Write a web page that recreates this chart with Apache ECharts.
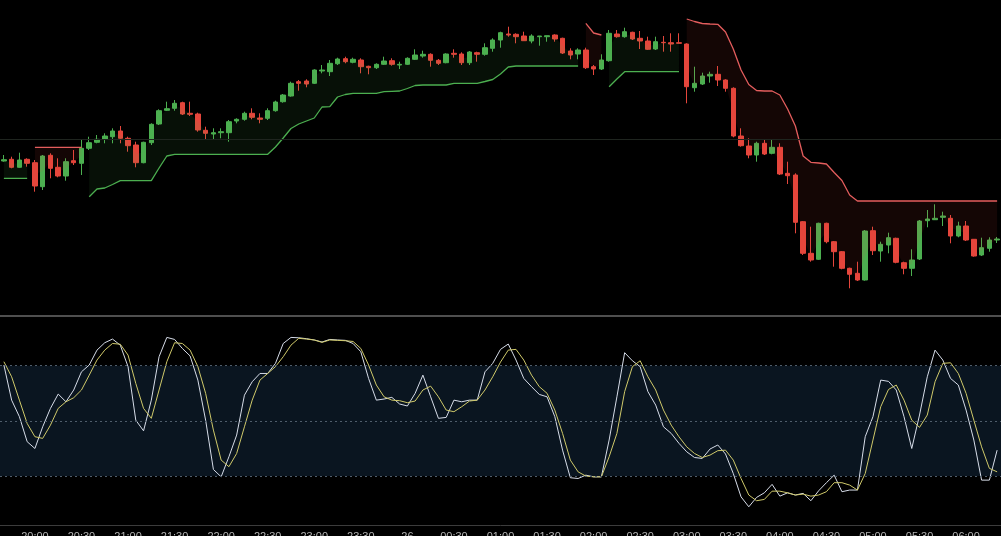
<!DOCTYPE html>
<html>
<head>
<meta charset="utf-8">
<script src="https://cdn.jsdelivr.net/npm/echarts@6/dist/echarts.min.js"></script>
<style>
  html, body { margin: 0; padding: 0; background: #000; }
  #chart { width: 1001px; height: 536px; }
</style>
</head>
<body>
<div id="chart"></div>
<script>
// 5 minute bars
const times = [
  '19:40','19:45','19:50','19:55',
  '20:00','20:05','20:10','20:15','20:20','20:25','20:30','20:35','20:40','20:45','20:50','20:55',
  '21:00','21:05','21:10','21:15','21:20','21:25','21:30','21:35','21:40','21:45','21:50','21:55',
  '22:00','22:05','22:10','22:15','22:20','22:25','22:30','22:35','22:40','22:45','22:50','22:55',
  '23:00','23:05','23:10','23:15','23:20','23:25','23:30','23:35','23:40','23:45','23:50','23:55',
  '00:00','00:05','00:10','00:15','00:20','00:25','00:30','00:35','00:40','00:45','00:50','00:55',
  '01:00','01:05','01:10','01:15','01:20','01:25','01:30','01:35','01:40','01:45','01:50','01:55',
  '02:00','02:05','02:10','02:15','02:20','02:25','02:30','02:35','02:40','02:45','02:50','02:55',
  '03:00','03:05','03:10','03:15','03:20','03:25','03:30','03:35','03:40','03:45','03:50','03:55',
  '04:00','04:05','04:10','04:15','04:20','04:25','04:30','04:35','04:40','04:45','04:50','04:55',
  '05:00','05:05','05:10','05:15','05:20','05:25','05:30','05:35','05:40','05:45','05:50','05:55',
  '06:00','06:05','06:10','06:15','06:20'
];

// [open, close, low, high]
const candles = [
  [159.0,160.3,158.3,165.0],[160.7,152.7,151.7,163.3],[152.7,160.0,152.3,167.3],[160.7,156.7,153.3,161.7],
  [157.3,134.0,128.3,160.0],[133.3,164.0,130.0,165.0],[164.7,151.7,141.7,166.7],[152.7,144.0,142.7,161.7],
  [144.0,158.3,139.3,161.7],[159.3,157.3,155.0,170.0],[156.7,171.7,145.0,180.0],[171.7,177.3,170.0,183.3],
  [177.7,180.7,176.7,185.0],[181.0,184.0,176.7,186.7],[183.3,189.0,176.7,191.7],[189.0,181.7,176.7,194.0],
  [181.7,174.3,168.3,183.3],[175.0,157.3,152.7,178.3],[157.3,177.7,156.7,178.3],[177.3,195.7,175.0,196.7],
  [196.0,209.3,195.0,210.7],[209.7,211.3,209.0,218.3],[211.7,216.7,209.3,220.0],[217.3,206.0,205.0,218.3],
  [206.7,205.7,204.0,218.3],[206.0,190.0,188.3,207.3],[189.7,186.7,180.0,193.3],[186.0,187.3,180.0,191.7],
  [187.3,188.3,181.7,191.7],[187.3,198.3,178.3,200.0],[199.0,200.7,196.7,201.7],[200.7,206.7,199.3,208.3],
  [206.7,202.7,200.7,211.7],[202.0,200.7,196.7,206.7],[201.7,209.3,200.0,211.7],[209.3,218.0,208.3,219.3],
  [218.3,225.0,217.3,226.0],[224.0,236.7,223.3,238.3],[238.3,236.7,229.3,240.0],[239.0,236.0,232.7,240.7],
  [236.7,250.0,236.0,250.7],[249.0,250.0,246.7,255.0],[248.3,256.7,244.0,260.0],[256.3,261.0,255.0,262.3],
  [261.3,258.3,256.7,263.3],[257.7,260.7,256.7,262.3],[260.0,253.3,246.7,261.7],[253.7,252.3,245.7,254.3],
  [252.3,255.7,251.0,256.7],[255.7,259.0,255.0,263.3],[259.3,255.7,254.3,261.7],[255.0,255.7,251.0,258.3],
  [255.7,261.7,255.0,262.7],[260.7,265.0,260.0,270.7],[264.0,265.7,262.3,269.3],[265.7,259.7,253.3,266.7],
  [259.7,256.7,255.0,261.0],[257.3,266.0,256.7,266.7],[266.7,265.7,262.3,270.7],[266.0,257.3,255.0,267.7],
  [257.3,268.0,255.0,269.0],[267.3,265.7,258.3,268.3],[265.7,272.3,264.3,276.7],[271.7,280.0,268.3,281.7],
  [280.0,287.3,272.3,288.3],[286.0,285.0,283.3,293.3],[285.7,283.3,276.7,286.7],[284.0,279.3,279.0,288.3],
  [279.0,284.0,276.7,285.7],[283.3,284.0,274.3,284.0],[283.3,284.3,278.3,284.3],[285.0,281.0,278.3,285.7],
  [281.7,267.0,266.0,282.3],[269.0,265.0,260.7,271.7],[266.0,270.0,260.7,271.7],[270.0,252.3,251.0,272.3],
  [253.3,251.0,245.0,255.0],[251.0,260.0,250.0,265.7],[259.3,286.7,258.3,290.0],[286.0,283.3,282.3,290.0],
  [283.3,288.3,282.3,292.3],[287.7,281.0,280.0,288.3],[281.7,279.0,271.0,289.0],[279.0,270.7,270.0,283.3],
  [271.0,278.3,270.0,283.3],[277.7,277.3,268.3,284.0],[277.3,276.0,268.3,286.7],[277.3,276.7,276.7,286.7],
  [276.0,233.3,216.7,276.7],[232.3,236.7,228.3,253.3],[236.0,244.0,235.0,247.3],[244.0,245.7,237.3,248.3],
  [245.7,240.0,234.0,254.0],[240.0,231.7,228.3,240.7],[231.7,184.0,182.7,232.7],[184.0,174.3,173.3,191.7],
  [174.0,165.0,161.7,181.7],[165.0,176.7,158.3,178.3],[176.7,166.0,165.0,180.7],[166.7,172.7,165.7,180.7],
  [172.7,146.0,145.0,176.7],[146.7,144.3,136.0,158.3],[145.0,97.7,86.7,146.7],[98.3,66.7,65.0,99.0],
  [66.7,60.0,58.3,93.3],[60.7,96.7,60.0,97.3],[96.7,78.3,76.7,97.3],[78.3,68.3,53.3,79.0],
  [68.3,51.7,50.7,69.0],[51.7,45.7,31.7,52.3],[46.7,40.0,39.0,58.3],[40.0,89.0,39.3,90.0],
  [89.3,69.3,65.0,93.3],[69.0,75.7,58.3,78.3],[75.0,82.3,66.7,87.3],[81.7,57.7,56.7,82.3],
  [57.3,51.7,45.7,58.3],[51.7,60.0,44.0,70.7],[61.0,99.0,60.0,100.0],[99.3,101.0,92.7,110.0],
  [100.3,101.7,100.0,115.7],[102.7,104.0,94.0,108.3],[101.7,84.0,76.7,105.0],[84.0,94.0,82.7,98.3],
  [94.0,80.0,79.0,99.0],[80.7,64.0,63.3,81.0],[65.0,72.3,64.0,82.3],[71.7,80.0,68.3,82.7],
  [80.0,81.0,77.0,83.0]
];

// supertrend, up (green) and down (red) legs
const stUp = [
  141.7,141.7,141.7,141.7,
  null,null,null,null,null,null,null,
  123.3,131,132,135.5,139.3,139.3,139.3,139.3,139.3,152,164,
  165.7,165.7,165.7,165.7,165.7,165.7,165.7,165.7,165.7,165.7,165.7,165.7,165.7,
  173,182,191.5,196,199,202,213,213.3,223,225.5,226.7,226.7,226.7,226.7,
  228.3,228.7,229,231.5,234.5,235,235,235,235,236.7,236.7,236.7,236.7,
  238.5,240.5,246,253,254,254,254,254,254,254,254,254,254,
  null,null,null,
  233.3,241,248.3,248.3,248.3,248.3,248.3,248.3,248.3,248.3,
  null,null,null,null,null,null,null,null,null,null,null,null,null,null,null,null,null,null,null,null,
  null,null,null,null,null,null,null,null,null,null,null,null,null,null,null,null,null,null,null,null,null
];
const stDown = [
  null,null,null,null,
  172.7,172.7,172.7,172.7,172.7,172.7,172.7,
  null,null,null,null,null,null,null,null,null,null,null,null,null,null,null,null,
  null,null,null,null,null,null,null,null,null,null,null,null,null,null,null,null,
  null,null,null,null,null,null,null,null,null,null,null,null,null,null,null,null,
  null,null,null,null,null,null,null,null,null,null,null,null,null,null,null,null,
  296.7,287,285,
  null,null,null,null,null,null,null,null,null,null,
  301,298.5,296.5,296,295.7,288,271,250,235.5,229.5,229,229,225,211,194,164,157.7,157,156,147.5,139.5,125,
  119,119,119,119,119,119,119,119,119,119,119,119,119,119,119,119,119,119,119
];

// stochastic %K and %D
const stochK = [
  80.4,61.3,52.3,38.7,35,46.8,56.8,64.6,60.4,66.8,76.7,80.4,88.5,92.5,94.5,91.2,
  79.5,50.4,44.6,61.3,84.9,95.4,94.3,89.4,85.3,72.2,50.4,23.6,19.6,30.5,42.3,64,
  71.3,75.8,75.8,81.3,92.1,95.4,95.2,94.7,94,92.9,94.3,94,93.8,92.1,87.6,73.1,
  61.3,61.9,62.8,59.2,58.1,65,74.9,63.1,51.4,51.9,61.3,60.4,61.3,61.3,76.7,81.3,
  88.9,91.8,83.1,73.1,68.6,64.4,63.1,52.3,34.1,19.1,18.7,20.5,19.6,19.6,39.6,63.1,
  87.1,82.7,79.5,65.9,58.6,46.8,43.2,37.8,33.2,30.1,29.6,34.7,36.9,32,21.4,8.7,
  3.3,8.4,10.9,15.5,9.1,10.9,9.7,10.6,6.6,12,16.4,20.5,11.5,12.4,12.4,41.4,
  52.3,72.2,71.5,66.8,52.3,35,53.2,74,88.5,83.1,73.1,69.5,55.9,39.6,17.8,17.8,
  34.1
];
const stochD = [
  82.2,74,61.3,48.6,41.4,40.5,47.7,56.8,60.4,62.6,66.8,74.9,83.1,88.5,92.1,91.7,
  85.8,70.4,56.8,51.4,66.8,82.2,92.5,92.1,88.5,79.5,65,45,28.7,25.1,32.3,46.8,
  61.3,72.2,75.8,79.5,84.9,91.2,94.9,94.5,94,92.7,94,93.8,93.6,93.2,89.4,80.4,
  69.5,63.1,61.3,61,59.9,60.8,66.8,68.9,63.1,55.9,55,57.7,60.8,61.3,66.8,74,
  82,88.5,88.9,83.1,74.9,68.6,65,55.9,43.2,28.7,22.3,20,19.6,19.6,30.5,43.2,
  65.9,79.5,82.7,74,66.8,55.9,47.7,41.4,35.9,32.3,30.1,31.4,33.8,34.1,28.7,18.7,
  9.7,6.6,7.3,11.8,11.8,10.9,9.7,10.2,9.1,9.7,11.5,16.4,16.4,15.1,12.4,21.4,
  39.6,57.7,67.1,69.5,61.3,50.4,46.5,53.2,71.3,81.3,81.6,75.8,65,50.4,35.9,24.2,
  22.3
];

const stochLevels = [80, 50, 20];

// fill between the body middle and the supertrend
const mids = candles.map(c => (c[0] + c[1]) / 2);
const upBase = stUp.map(v => v);
const upBand = stUp.map((v, i) => v == null ? null : mids[i] - v);
const dnBase = stDown.map((v, i) => v == null ? null : mids[i]);
const dnBand = stDown.map((v, i) => v == null ? null : v - mids[i]);

const GREEN = '#4caf50';
const RED = '#e5463c';

let myChart = echarts.init(document.getElementById('chart'));
myChart.setOption({
  animation: false,
  backgroundColor: '#000',
  grid: [
    { left: 0, right: 0, top: 0, height: 316, containLabel: false, outerBoundsMode: 'none' },
    { left: 0, right: 0, top: 317, bottom: 11, containLabel: false, outerBoundsMode: 'none' }
  ],
  xAxis: [
    {
      type: 'category', gridIndex: 0, data: times, boundaryGap: true,
      axisLine: { show: true, onZero: false, lineStyle: { color: '#6a6a6a', width: 1.5 } },
      axisTick: { show: false }, axisLabel: { show: false }, splitLine: { show: false }
    },
    {
      type: 'category', gridIndex: 1, data: times, boundaryGap: true,
      axisLine: { show: true, onZero: false, lineStyle: { color: '#3c3c3c', width: 1 } },
      axisTick: { show: false }, splitLine: { show: false },
      axisLabel: {
        color: '#b4b4b4', fontSize: 11, fontFamily: 'Liberation Sans', margin: 6,
        interval: (idx, val) => val.endsWith(':00') || val.endsWith(':30'),
        formatter: val => val === '00:00' ? '26' : val
      }
    }
  ],
  yAxis: [
    {
      type: 'value', gridIndex: 0, min: 4, max: 320, scale: true,
      axisLine: { show: false }, axisTick: { show: false }, axisLabel: { show: false }, splitLine: { show: false }
    },
    {
      type: 'value', gridIndex: 1, min: -6.6, max: 106.5,
      axisLine: { show: false }, axisTick: { show: false }, axisLabel: { show: false }, splitLine: { show: false }
    }
  ],
  series: [
    // green fill
    { type: 'line', xAxisIndex: 0, yAxisIndex: 0, stack: 'up', stackStrategy: 'all', data: upBase,
      symbol: 'none', lineStyle: { opacity: 0 }, silent: true },
    { type: 'line', xAxisIndex: 0, yAxisIndex: 0, stack: 'up', stackStrategy: 'all', data: upBand,
      symbol: 'none', lineStyle: { opacity: 0 }, areaStyle: { color: 'rgba(76,175,80,0.13)' }, silent: true },
    // red fill
    { type: 'line', xAxisIndex: 0, yAxisIndex: 0, stack: 'dn', stackStrategy: 'all', data: dnBase,
      symbol: 'none', lineStyle: { opacity: 0 }, silent: true },
    { type: 'line', xAxisIndex: 0, yAxisIndex: 0, stack: 'dn', stackStrategy: 'all', data: dnBand,
      symbol: 'none', lineStyle: { opacity: 0 }, areaStyle: { color: 'rgba(229,70,60,0.12)' }, silent: true },
    // supertrend lines
    { type: 'line', xAxisIndex: 0, yAxisIndex: 0, data: stUp, symbol: 'none',
      lineStyle: { color: GREEN, width: 1.3 } },
    { type: 'line', xAxisIndex: 0, yAxisIndex: 0, data: stDown, symbol: 'none',
      lineStyle: { color: '#e35d5d', width: 1.3 } },
    // candles
    {
      type: 'candlestick', xAxisIndex: 0, yAxisIndex: 0, data: candles, barWidth: 5,
      itemStyle: { color: GREEN, color0: RED, borderColor: GREEN, borderColor0: RED, borderWidth: 1 },
      markLine: {
        silent: true, symbol: 'none', label: { show: false },
        lineStyle: { color: '#1f251f', type: 'solid', width: 1 },
        data: [{ yAxis: 181 }]
      }
    },
    // stochastic
    {
      type: 'line', xAxisIndex: 1, yAxisIndex: 1, data: stochK, symbol: 'none',
      lineStyle: { color: '#d6dce8', width: 1 },
      markArea: {
        silent: true, itemStyle: { color: '#0a1520' },
        data: [[{ yAxis: 20 }, { yAxis: 80 }]]
      },
      markLine: {
        silent: true, symbol: 'none', label: { show: false },
        lineStyle: { color: '#4f5d6b', type: [2, 3], width: 1 },
        data: stochLevels.map(v => ({ yAxis: v }))
      }
    },
    {
      type: 'line', xAxisIndex: 1, yAxisIndex: 1, data: stochD, symbol: 'none',
      lineStyle: { color: '#cfc96a', width: 1 }
    }
  ]
});
window.onresize = myChart.resize;
</script>
</body>
</html>
